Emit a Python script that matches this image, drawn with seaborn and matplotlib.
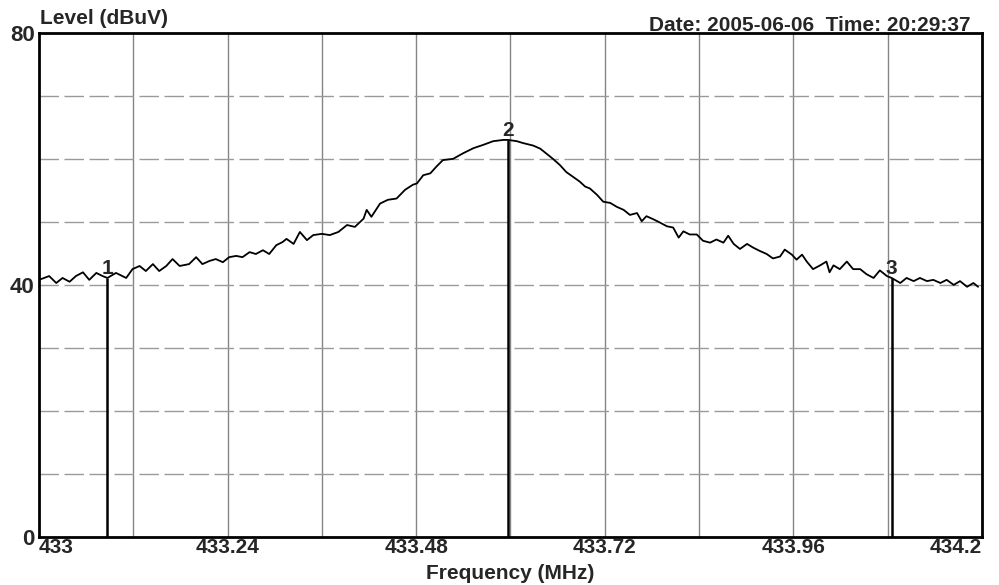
import numpy as np
import pandas as pd
import matplotlib
matplotlib.use("Agg")
import matplotlib.pyplot as plt
import seaborn as sns

# trace (MHz, dBuV)
freq = [
    433.000, 433.013, 433.022, 433.030, 433.039, 433.047, 433.056, 433.064, 433.073, 433.081,
    433.087, 433.098, 433.111, 433.119, 433.128, 433.136, 433.145, 433.153, 433.162, 433.170,
    433.179, 433.191, 433.200, 433.208, 433.217, 433.225, 433.234, 433.242, 433.251, 433.259,
    433.268, 433.276, 433.285, 433.293, 433.302, 433.310, 433.315, 433.324, 433.332, 433.341,
    433.349, 433.360, 433.370, 433.381, 433.392, 433.402, 433.413, 433.417, 433.423, 433.434,
    433.444, 433.455, 433.466, 433.476, 433.481, 433.489, 433.498, 433.506, 433.514, 433.527,
    433.540, 433.553, 433.565, 433.578, 433.591, 433.597, 433.608, 433.616, 433.629, 433.638,
    433.646, 433.654, 433.663, 433.671, 433.680, 433.688, 433.695, 433.701, 433.710, 433.718,
    433.727, 433.735, 433.744, 433.752, 433.761, 433.767, 433.773, 433.782, 433.790, 433.799,
    433.807, 433.814, 433.820, 433.828, 433.837, 433.845, 433.854, 433.862, 433.871, 433.877,
    433.884, 433.892, 433.901, 433.909, 433.917, 433.926, 433.934, 433.943, 433.949, 433.958,
    433.964, 433.971, 433.977, 433.985, 433.994, 434.002, 434.006, 434.011, 434.019, 434.028,
    434.036, 434.045, 434.053, 434.062, 434.070, 434.079, 434.085, 434.096, 434.104, 434.113,
    434.121, 434.130, 434.138, 434.147, 434.155, 434.164, 434.172, 434.181, 434.189, 434.195,
]
level = [
    40.8, 41.4, 40.3, 41.1, 40.5, 41.4, 42.0, 40.8, 41.9, 41.4,
    41.1, 41.9, 41.1, 42.5, 43.0, 42.2, 43.3, 42.2, 43.0, 44.1,
    43.0, 43.3, 44.4, 43.3, 43.8, 44.1, 43.6, 44.4, 44.6, 44.4,
    45.2, 44.9, 45.5, 44.9, 46.3, 46.8, 47.3, 46.5, 48.4, 47.1,
    47.9, 48.1, 47.9, 48.4, 49.5, 49.2, 50.5, 51.9, 50.8, 52.9,
    53.5, 53.7, 55.1, 55.9, 56.1, 57.4, 57.7, 58.8, 59.8, 60.0,
    60.9, 61.7, 62.2, 62.8, 63.0, 63.0, 62.8, 62.5, 62.1, 61.6,
    60.8, 60.0, 59.0, 57.9, 57.1, 56.4, 55.6, 55.3, 54.3, 53.2,
    53.0, 52.4, 51.9, 51.1, 51.4, 50.1, 50.9, 50.4, 49.9, 49.3,
    49.1, 47.5, 48.5, 48.0, 48.0, 47.0, 46.7, 47.2, 46.7, 47.8,
    46.5, 45.7, 46.5, 45.9, 45.4, 44.9, 44.2, 44.5, 45.6, 44.8,
    44.0, 44.8, 43.7, 42.5, 43.1, 43.7, 42.0, 43.1, 42.5, 43.7,
    42.5, 42.5, 41.7, 41.1, 42.3, 41.4, 41.1, 40.3, 41.1, 40.6,
    41.1, 40.6, 40.8, 40.3, 40.8, 40.0, 40.6, 39.7, 40.3, 39.7,
]

marker_ids = ["1", "2", "3"]
marker_freq = [433.087, 433.597, 434.085]
marker_level = [41.1, 63.0, 41.1]

xtick_vals = [433, 433.24, 433.48, 433.72, 433.96, 434.2]
xtick_labels = ["433", "433.24", "433.48", "433.72", "433.96", "434.2"]
ytick_vals = [0, 40, 80]

df = pd.DataFrame({"Frequency": freq, "Level": level})

sns.set_style("white")
plt.rcParams["font.family"] = ["Liberation Sans", "DejaVu Sans"]
plt.rcParams["font.weight"] = "bold"

fig = plt.figure(figsize=(9.99, 5.85), dpi=100)
ax = fig.add_axes([0.039, 0.082, 0.944, 0.862])

# grid: solid-ish verticals, broken horizontals
for gx in np.arange(433.12, 434.2, 0.12):
    ax.axvline(gx, color="#858585", lw=1.0, zorder=1)
for gy in range(10, 80, 10):
    ax.axhline(gy, color="#9a9a9a", lw=1.0, ls=(0, (14, 4)), zorder=1)

sns.lineplot(data=df, x="Frequency", y="Level", color="black", lw=1.3, ax=ax, zorder=3)

ax.vlines(marker_freq, 0, marker_level, color="black", lw=1.8, zorder=4)
for mid, mf, ml in zip(marker_ids, marker_freq, marker_level):
    ax.text(mf, ml, mid, ha="center", va="bottom", fontsize=15, fontweight="bold")

ax.set_xlim(433, 434.2)
ax.set_ylim(0, 80)
ax.set_xticks(xtick_vals)
ax.set_xticklabels(xtick_labels, fontsize=15, fontweight="bold")
ax.set_yticks(ytick_vals)
ax.set_yticklabels([str(v) for v in ytick_vals], fontsize=16, fontweight="bold")
ax.tick_params(length=0, pad=1)
ax.tick_params(axis="y", pad=3)
tl = ax.get_xticklabels()
tl[0].set_ha("left")
tl[-1].set_ha("right")

ax.set_xlabel("Frequency (MHz)", fontsize=15, fontweight="bold", labelpad=5)
ax.set_ylabel("")
ax.grid(False)
for s in ax.spines.values():
    s.set_color("black")
    s.set_linewidth(2)

fig.text(0.040, 0.968, "Level (dBuV)", ha="left", va="center", fontsize=15, fontweight="bold")
fig.text(0.971, 0.956, "Date: 2005-06-06  Time: 20:29:37", ha="right", va="center",
         fontsize=15, fontweight="bold")

fig.savefig("out.png", dpi=100, facecolor="white")
